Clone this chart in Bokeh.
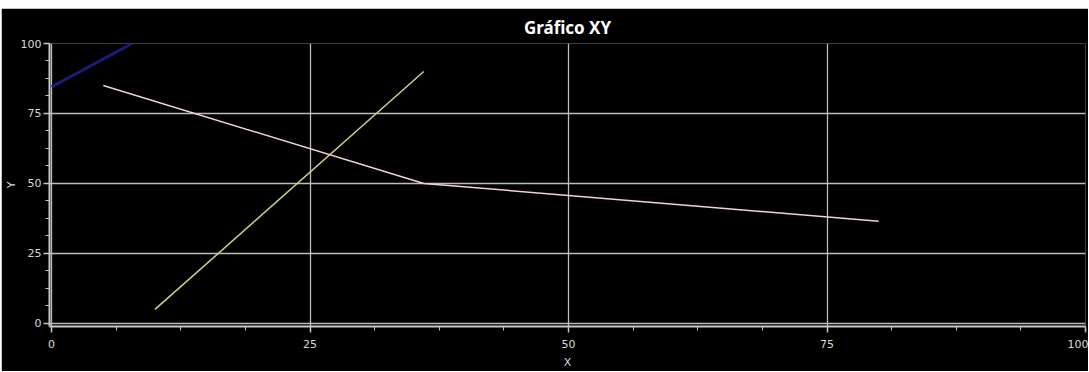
from bokeh.plotting import figure
from bokeh.models import Range1d, FixedTicker, Spacer
from bokeh.layouts import column, row
from bokeh.embed import file_html
from bokeh.resources import INLINE

# Data
blue_x = [0, 7.8]
blue_y = [84.5, 100]
pink_x = [5, 36, 80]
pink_y = [85, 50, 36.5]
yellow_x = [10, 36]
yellow_y = [5, 90]

x_major = [0, 25, 50, 75, 100]
y_major = [0, 25, 50, 75, 100]
x_minor = [v * 6.25 for v in range(17)]
y_minor = [v * 6.25 for v in range(17)]

p = figure(width=1087, height=363, output_backend="svg", toolbar_location=None,
           x_range=Range1d(-0.2, 100), y_range=Range1d(-1.1, 100),
           min_border_left=46, min_border_right=3, min_border_top=34, min_border_bottom=42)

p.background_fill_color = "#000000"
p.border_fill_color = "#000000"
p.outline_line_color = None

p.title.text = "Gráfico XY"
p.title.align = "center"
p.title.text_color = "#ffffff"
p.title.text_font = "Noto Sans"
p.title.text_font_size = "17px"
p.title.text_font_style = "bold"

for ax in (p.xaxis[0], p.yaxis[0]):
    ax.axis_line_color = "#c8c8c8"
    ax.axis_line_width = 2
    ax.major_tick_line_color = "#c8c8c8"
    ax.minor_tick_line_color = "#c8c8c8"
    ax.major_tick_line_width = 1.5
    ax.major_tick_out = 6
    ax.major_tick_in = 0
    ax.minor_tick_out = 4
    ax.minor_tick_in = 0
    ax.major_label_text_color = "#d8d8d8"
    ax.major_label_text_font = "DejaVu Sans"
    ax.major_label_text_font_size = "11px"
    ax.axis_label_text_color = "#d8d8d8"
    ax.axis_label_text_font = "DejaVu Sans"
    ax.axis_label_text_font_size = "11px"
    ax.axis_label_text_font_style = "normal"

p.xaxis.ticker = FixedTicker(ticks=x_major, minor_ticks=x_minor)
p.yaxis.ticker = FixedTicker(ticks=y_major, minor_ticks=y_minor)
p.xaxis.axis_label = "X"
p.yaxis.axis_label = "Y"
p.xaxis.major_label_standoff = 7
p.xaxis.axis_label_standoff = 5
p.yaxis.major_label_standoff = 2
p.yaxis.axis_label_standoff = 0

p.xgrid.ticker = FixedTicker(ticks=x_major)
p.ygrid.ticker = FixedTicker(ticks=y_major)
p.grid.grid_line_color = "#bdbdbd"
p.grid.grid_line_width = 1.3

p.line(blue_x, blue_y, line_color="#1c1c78", line_width=3)
p.line(pink_x, pink_y, line_color="#f2d2d2", line_width=1.5)
p.line(yellow_x, yellow_y, line_color="#d2d282", line_width=1.5)

layout = column(Spacer(height=8), row(Spacer(width=1), p))
open("out.html", "w").write(file_html(layout, INLINE))
